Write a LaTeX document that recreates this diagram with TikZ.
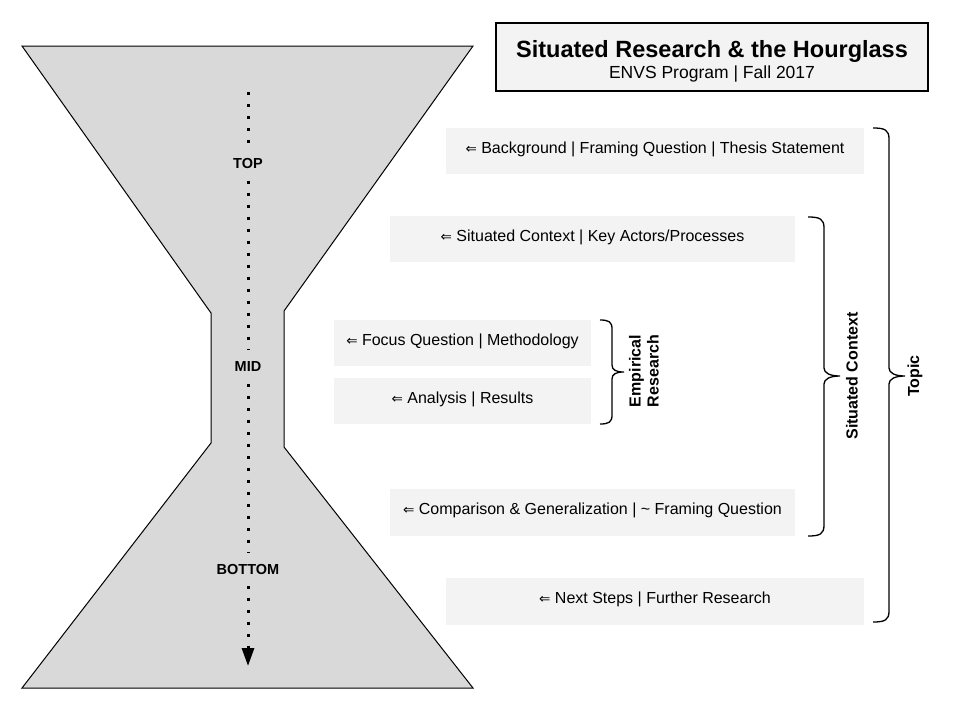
\documentclass[tikz,border=0pt]{standalone}
\usepackage{fontspec}
\setmainfont{Liberation Sans}
\newfontfamily\dejavu{DejaVu Sans}
\usetikzlibrary{arrows.meta}
\definecolor{glassgray}{HTML}{D9D9D9}
\definecolor{boxgray}{HTML}{F3F3F3}
\newcommand{\myarr}{{\dejavu\fontsize{13.5}{13.5}\selectfont ⇐}}
\tikzset{
  stepbox/.style={fill=boxgray, draw=none, inner sep=0pt, text height=11.5pt, text depth=7pt, font=\fontsize{16}{19}\selectfont},
  lab/.style={inner sep=0pt, minimum height=33pt, font=\fontsize{14.5}{17}\selectfont\bfseries},
  dotline/.style={line width=3pt, dash pattern=on 3pt off 9pt},
  bracket/.style={line width=1.3pt},
  blab/.style={rotate=90, inner sep=0pt, font=\fontsize{16}{18}\selectfont\bfseries},
}
\begin{document}
\begin{tikzpicture}[x=1pt,y=-1pt]
\useasboundingbox (0,0) rectangle (960,720);
% hourglass
\draw[fill=glassgray, line width=1pt, line join=miter]
  (22,46) -- (473,46) -- (284,311) -- (284,447) -- (473,688) -- (22,688) -- (211,443) -- (211,313) -- cycle;
% labels and dotted arrow
\coordinate (s) at (248,92);
\coordinate (e) at (248,666);
\node[lab] (top) at (248,164) {TOP};
\node[lab] (mid) at (248,367) {MID};
\node[lab] (bot) at (248,569) {BOTTOM};
\draw[dotline] (s) -- (top);
\draw[dotline] (top) -- (mid);
\draw[dotline] (mid) -- (bot);
\draw[dotline, -{Triangle[length=18pt,width=12pt]}] (bot) -- (e);
% title
\node[draw, line width=1.3pt, fill=boxgray, minimum width=432pt, minimum height=68pt, inner sep=0pt] (title) at (712,57) {};
\node[inner sep=0pt, font=\fontsize{23.5}{28}\selectfont\bfseries] (ttl) at (712,51) {Situated Research \& the Hourglass};
\node[inner sep=0pt, font=\fontsize{17.5}{21}\selectfont] (sub) at (712,74) {ENVS Program | Fall 2017};
% boxes
\node[stepbox, minimum width=418pt, minimum height=46pt] (b1) at (655,151) {\myarr\ Background | Framing Question | Thesis Statement};
\node[stepbox, minimum width=405pt, minimum height=46pt] (b2) at (592.5,239) {\myarr\ Situated Context | Key Actors/Processes};
\node[stepbox, minimum width=257pt, minimum height=46pt] (b3) at (462.5,343) {\myarr\ Focus Question | Methodology};
\node[stepbox, minimum width=257pt, minimum height=46pt] (b4) at (462.5,401) {\myarr\ Analysis | Results};
\node[stepbox, minimum width=405pt, minimum height=47pt] (b5) at (592.5,512.5) {\myarr\ Comparison \& Generalization | \textasciitilde\ Framing Question};
\node[stepbox, minimum width=418pt, minimum height=47pt] (b6) at (655,601.5) {\myarr\ Next Steps | Further Research};
% braces
\draw[bracket] (600,320) .. controls (609,320) and (612,322) .. (612,329) -- (612,365)
  .. controls (612,370) and (616,372) .. (624,372) .. controls (616,372) and (612,374) .. (612,379)
  -- (612,415) .. controls (612,422) and (609,424) .. (600,424);
\draw[bracket] (808,217) .. controls (820,217) and (824,219) .. (824,228) -- (824,368)
  .. controls (824,373) and (830,376) .. (840,376) .. controls (830,376) and (824,379) .. (824,384)
  -- (824,525) .. controls (824,534) and (820,536) .. (808,536);
\draw[bracket] (873,128) .. controls (885,128) and (889,130) .. (889,139) -- (889,368)
  .. controls (889,373) and (895,376) .. (905,376) .. controls (895,376) and (889,379) .. (889,384)
  -- (889,611) .. controls (889,620) and (885,622) .. (873,622);
% brace labels
\node[blab, align=left] (emp) at (644,371) {Empirical\\Research};
\node[blab] (sit) at (852,376) {Situated Context};
\node[blab] (topic) at (915,376) {Topic};
\end{tikzpicture}
\end{document}
